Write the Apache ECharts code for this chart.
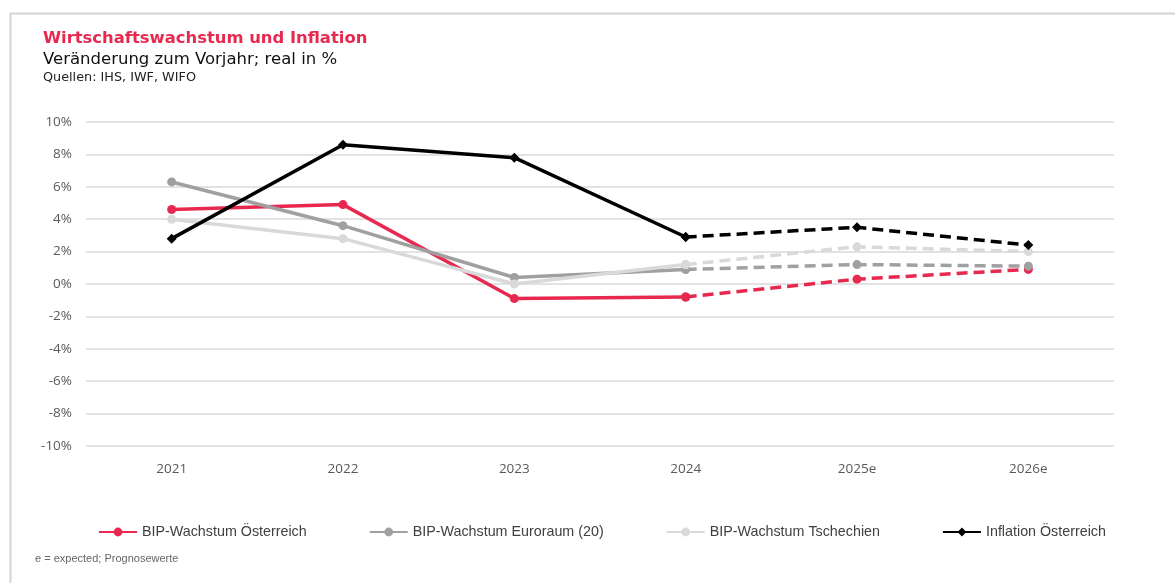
<!DOCTYPE html>
<html>
<head>
<meta charset="utf-8">
<script src="https://cdn.jsdelivr.net/npm/echarts@6/dist/echarts.min.js"></script>
<style>
  html, body { margin: 0; padding: 0; background: #fff; }
  #chart { width: 1175px; height: 583px; }
</style>
</head>
<body>
<div id="chart"></div>
<script>
// Jahre (2025e, 2026e = Prognose)
var years = ["2021", "2022", "2023", "2024", "2025e", "2026e"];
var forecastFrom = 3; // ab 2024 gestrichelt

var bipAT = [4.6, 4.9, -0.9, -0.8, 0.3, 0.9];
var bipEU = [6.3, 3.6, 0.4, 0.9, 1.2, 1.1];
var bipCZ = [4.0, 2.8, 0.0, 1.2, 2.3, 2.0];
var inflAT = [2.8, 8.6, 7.8, 2.9, 3.5, 2.4];

var yTicks = [-10, -8, -6, -4, -2, 0, 2, 4, 6, 8, 10];

var names = ["BIP-Wachstum Österreich", "BIP-Wachstum Euroraum (20)", "BIP-Wachstum Tschechien", "Inflation Österreich"];
var colors = ["#e8294f", "#a0a0a0", "#d9d9d9", "#000000"];

// teilt eine Reihe in durchgezogenen und gestrichelten Teil
function solidPart(arr) {
  return arr.map(function (v, i) { return i <= forecastFrom ? v : "-"; });
}
function dashedPart(arr) {
  return arr.map(function (v, i) { return i >= forecastFrom ? v : "-"; });
}

function makeSeries(name, data, color, symbol) {
  var base = {
    name: name,
    type: "line",
    symbol: symbol,
    symbolSize: symbol === "diamond" ? 10 : 9,
    itemStyle: { color: color },
    emphasis: { disabled: true },
    animation: false
  };
  return [
    Object.assign({}, base, { data: solidPart(data), lineStyle: { color: color, width: 3.5 } }),
    Object.assign({}, base, { data: dashedPart(data), lineStyle: { color: color, width: 3.5, type: [11, 6] } })
  ];
}

var series = []
  .concat(makeSeries(names[0], bipAT, colors[0], "circle"))
  .concat(makeSeries(names[1], bipEU, colors[1], "circle"))
  .concat(makeSeries(names[2], bipCZ, colors[2], "circle"))
  .concat(makeSeries(names[3], inflAT, colors[3], "diamond"));

var myChart = echarts.init(document.getElementById("chart"));
myChart.setOption({
  backgroundColor: "#fff",
  textStyle: { fontFamily: "Open Sans" },
  graphic: [
    { type: "line", shape: { x1: 10, y1: 13.5, x2: 1175, y2: 13.5 }, style: { stroke: "#d4d4d4", lineWidth: 2 } },
    { type: "line", shape: { x1: 10.5, y1: 13, x2: 10.5, y2: 583 }, style: { stroke: "#d4d4d4", lineWidth: 2 } },
    { type: "text", left: 43, top: 31, style: { text: "Wirtschaftswachstum und Inflation", fill: "#e8294f", font: "bold 16.4px 'DejaVu Sans'" } },
    { type: "text", left: 43, top: 51, style: { text: "Veränderung zum Vorjahr; real in %", fill: "#111", font: "16.5px 'DejaVu Sans'" } },
    { type: "text", left: 43, top: 71, style: { text: "Quellen: IHS, IWF, WIFO", fill: "#222", font: "12.8px 'DejaVu Sans'" } },
    { type: "text", left: 35, top: 553, style: { text: "e = expected; Prognosewerte", fill: "#666", font: "11px 'Liberation Sans'" } }
  ],
  grid: { left: 86, right: 61, top: 122, bottom: 137, containLabel: false },
  legend: {
    data: names,
    bottom: 39,
    left: 93,
    itemGap: 62,
    itemWidth: 38,
    itemHeight: 11,
    textStyle: { fontFamily: "'Liberation Sans'", fontSize: 14.3, color: "#404040" }
  },
  xAxis: {
    type: "category",
    data: years,
    boundaryGap: true,
    axisLine: { show: false },
    axisTick: { show: false },
    axisLabel: { color: "#595959", fontSize: 13.5, margin: 16 }
  },
  yAxis: {
    type: "value",
    min: yTicks[0],
    max: yTicks[yTicks.length - 1],
    interval: 2,
    axisLine: { show: false },
    axisTick: { show: false },
    axisLabel: { color: "#595959", fontSize: 13.5, margin: 14, formatter: "{value}%" },
    splitLine: { lineStyle: { color: "#d9d9d9", width: 1.5 } }
  },
  series: series
});
</script>
</body>
</html>
